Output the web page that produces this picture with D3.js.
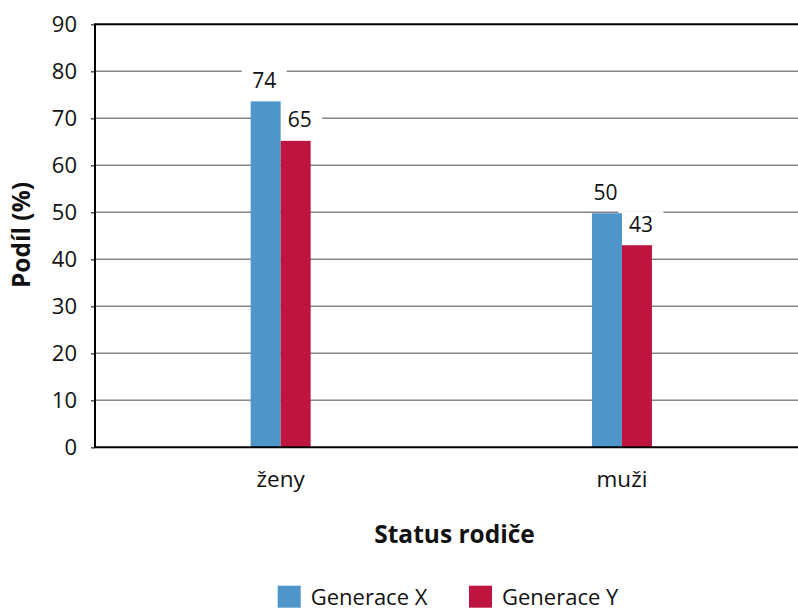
<!DOCTYPE html>
<html>
<head>
<meta charset="utf-8">
<script src="https://cdnjs.cloudflare.com/ajax/libs/d3/7.8.5/d3.min.js"></script>
<style>
  body { margin: 0; background: #fff; }
  text { font-family: "Open Sans", "Noto Sans", sans-serif; fill: #111; }
</style>
</head>
<body>
<svg id="chart"></svg>
<script>
// data
var categories = ["ženy", "muži"];
var seriesNames = ["Generace X", "Generace Y"];
var genX = [73.6, 49.8];
var genY = [65.2, 43.0];
var labelsX = ["74", "50"];
var labelsY = ["65", "43"];
var yTicks = [0, 10, 20, 30, 40, 50, 60, 70, 80, 90];
var colors = ["#4e95c9", "#bd1540"];

var width = 798, height = 608;
var plotLeft = 95, plotRight = 798, plotTop = 24.3, plotBottom = 447.3;

var chart = d3.select('#chart')
  .attr('width', width)
  .attr('height', height);

var yScale = d3.scaleLinear()
  .domain([0, 90])
  .range([plotBottom, plotTop]);

// category bands (centres match the picture)
var xScale = d3.scaleBand()
  .domain(categories)
  .range([110, 792.6])
  .padding(0);

var xSub = d3.scaleBand()
  .domain(seriesNames)
  .range([0, 60]);

// gridlines
chart.append('g')
  .selectAll('line')
  .data(yTicks.filter(function(d){ return d > 0 && d < 90; }))
  .enter().append('line')
    .attr('x1', plotLeft).attr('x2', plotRight)
    .attr('y1', function(d){ return yScale(d); })
    .attr('y2', function(d){ return yScale(d); })
    .attr('stroke', '#868686')
    .attr('stroke-width', 1.5);

// y axis
var yAxis = chart.append('g')
  .attr('transform', 'translate(' + plotLeft + ',0)')
  .call(d3.axisLeft(yScale).tickValues(yTicks).tickSize(4).tickPadding(14));
yAxis.select('.domain').remove();
yAxis.selectAll('line').attr('stroke', '#555').attr('stroke-width', 1.5);
yAxis.selectAll('text')
  .style('font-family', '"Open Sans", sans-serif')
  .style('font-size', '22px')
  .attr('fill', '#111');

var rows = categories.map(function(c, i){
  return [
    { cat: c, name: seriesNames[0], value: genX[i], label: labelsX[i], dx: -1.5 },
    { cat: c, name: seriesNames[1], value: genY[i], label: labelsY[i], dx: 4 }
  ];
});
var flat = [].concat.apply([], rows);

function barX(d){
  return xScale(d.cat) + xScale.bandwidth() / 2 - 30 + xSub(d.name);
}
function labelPos(d){
  return 'translate(' + (barX(d) + xSub.bandwidth() / 2 + d.dx) + ',' + (yScale(d.value) - 21) + ')';
}

// white boxes behind value labels (they cut the gridlines)
chart.append('g')
  .selectAll('rect')
  .data(flat)
  .enter().append('rect')
    .attr('transform', labelPos)
    .attr('x', -22.5).attr('y', -13)
    .attr('width', 45).attr('height', 26)
    .attr('fill', '#fff');

// bars
chart.append('g')
  .selectAll('rect')
  .data(flat)
  .enter().append('rect')
    .attr('x', barX)
    .attr('y', function(d){ return yScale(d.value); })
    .attr('width', xSub.bandwidth())
    .attr('height', function(d){ return plotBottom - yScale(d.value); })
    .attr('fill', function(d){ return colors[seriesNames.indexOf(d.name)]; });

// value labels
chart.append('g')
  .selectAll('text')
  .data(flat)
  .enter().append('text')
    .attr('transform', labelPos)
    .attr('text-anchor', 'middle')
    .attr('dy', '0.36em')
    .style('font-size', '21px')
    .text(function(d){ return d.label; });

// frame lines
chart.append('line')
  .attr('x1', plotLeft - 1).attr('x2', plotRight)
  .attr('y1', plotTop).attr('y2', plotTop)
  .attr('stroke', '#000').attr('stroke-width', 2);
chart.append('line')
  .attr('x1', plotLeft - 1).attr('x2', plotRight)
  .attr('y1', plotBottom).attr('y2', plotBottom)
  .attr('stroke', '#000').attr('stroke-width', 2);
chart.append('line')
  .attr('x1', plotLeft).attr('x2', plotLeft)
  .attr('y1', plotTop).attr('y2', plotBottom)
  .attr('stroke', '#000').attr('stroke-width', 2);

// x category labels
chart.append('g')
  .selectAll('text')
  .data(categories)
  .enter().append('text')
    .attr('x', function(d){ return xScale(d) + xScale.bandwidth() / 2; })
    .attr('y', 487)
    .attr('text-anchor', 'middle')
    .style('font-size', '22.5px')
    .text(function(d){ return d; });

// axis titles
chart.append('text')
  .attr('x', 454.5).attr('y', 543)
  .attr('text-anchor', 'middle')
  .style('font-size', '24.5px')
  .style('font-weight', 'bold')
  .text('Status rodiče');

chart.append('text')
  .attr('transform', 'translate(30,235) rotate(-90)')
  .attr('text-anchor', 'middle')
  .style('font-size', '24.5px')
  .style('font-weight', 'bold')
  .text('Podíl (%)');

// legend
var legendX = [277.7, 469];
var legend = chart.append('g')
  .selectAll('g')
  .data(seriesNames)
  .enter().append('g')
    .attr('transform', function(d, i){ return 'translate(' + legendX[i] + ',585.7)'; });
legend.append('rect')
  .attr('width', 23).attr('height', 22)
  .attr('fill', function(d, i){ return colors[i]; });
legend.append('text')
  .attr('x', 33).attr('y', 19)
  .style('font-size', '22px')
  .text(function(d){ return d; });
</script>
</body>
</html>
